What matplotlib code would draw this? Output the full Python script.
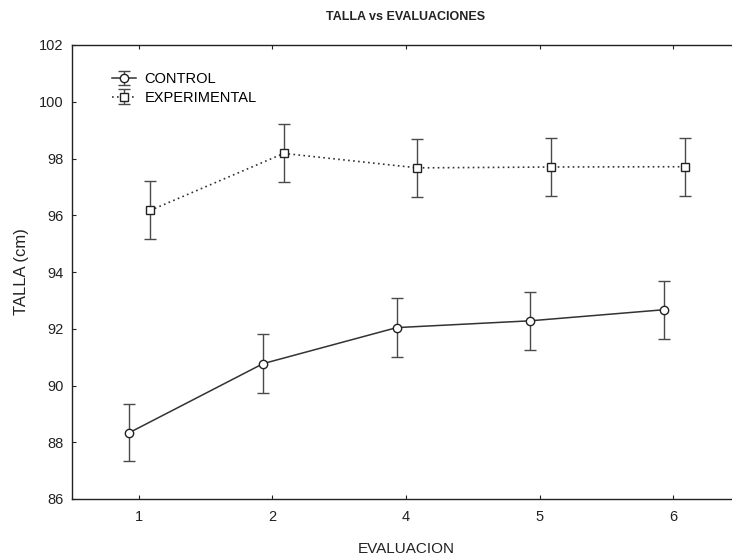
import matplotlib
matplotlib.use("Agg")
import matplotlib.pyplot as plt
import numpy as np

plt.rcParams['font.family'] = ['Liberation Sans', 'DejaVu Sans']

# evaluaciones y tallas medias (cm) con su error
evaluaciones = ["1", "2", "4", "5", "6"]
control = [88.34, 90.77, 92.04, 92.28, 92.67]
control_err = [1.01, 1.03, 1.04, 1.02, 1.03]
experimental = [96.17, 98.18, 97.67, 97.70, 97.71]
experimental_err = [1.02, 1.02, 1.02, 1.03, 1.03]

W, H = 732, 556
fig = plt.figure(figsize=(W / 100, H / 100), dpi=100)
# el eje derecho queda fuera de la hoja
ax = fig.add_axes([72 / W, (H - 499) / H, (740 - 72) / W, (499 - 45) / H])

x = np.arange(len(evaluaciones))
line_col = "#333333"
err_col = "#4a4a4a"

ctl = ax.errorbar(x - 0.07, control, yerr=control_err, color=line_col, lw=1.1,
                  ls="-", marker="o", ms=6, mfc="white", mec="#222222", mew=1.0,
                  ecolor=err_col, elinewidth=1.0, capsize=4.5, capthick=1.0,
                  label="CONTROL")
exp = ax.errorbar(x + 0.085, experimental, yerr=experimental_err, color=line_col,
                  lw=1.2, ls=(0, (1, 2)), marker="s", ms=6, mfc="white",
                  mec="#222222", mew=1.0, ecolor=err_col, elinewidth=1.0,
                  capsize=4.5, capthick=1.0, label="EXPERIMENTAL")

ax.set_xlim(-0.5, 4.5)
ax.set_ylim(86, 102)
ax.set_yticks(np.arange(86, 103, 2))
ax.set_xticks(x)
ax.set_xticklabels(evaluaciones)

for s in ax.spines.values():
    s.set_linewidth(1.0)
    s.set_color("#222222")
ax.spines["right"].set_visible(False)

ax.tick_params(direction="in", length=3, width=0.8, labelsize=10.5, colors="#222222",
               top=True, right=False)
ax.tick_params(axis="x", pad=8)
ax.tick_params(axis="y", pad=6)

ax.set_title("TALLA vs EVALUACIONES", fontsize=9, fontweight="bold", pad=18,
             color="#222222")
ax.set_xlabel("EVALUACION", fontsize=11, labelpad=13, color="#222222")
ax.set_ylabel("TALLA (cm)", fontsize=12, labelpad=7, color="#222222")

ax.legend(handles=[ctl, exp], loc="upper left",
          bbox_to_anchor=((105 - 72) / 668, 1 - (65 - 45) / 454),
          frameon=False, fontsize=10.5, handlelength=1.6, handletextpad=0.6,
          borderpad=0, labelspacing=0.3)

fig.savefig("out.png", dpi=100)
